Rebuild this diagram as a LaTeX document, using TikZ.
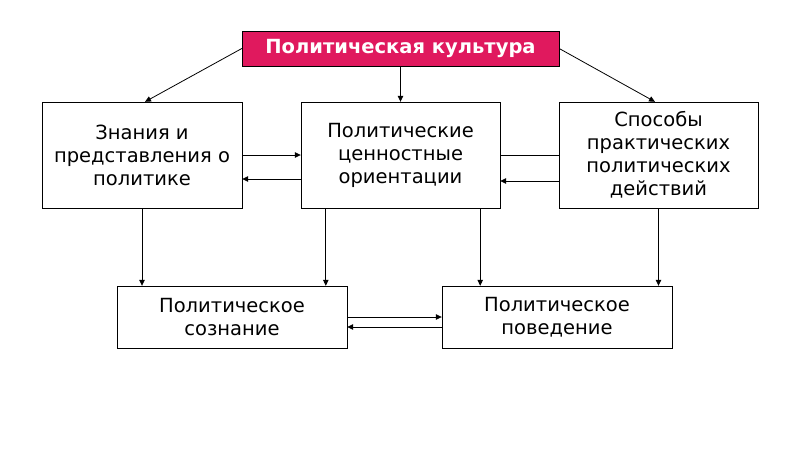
\documentclass[tikz,border=0pt]{standalone}
\usepackage{fontspec}
\setmainfont{DejaVu Sans}
\usepackage{tikz}
\usetikzlibrary{positioning, calc, arrows.meta}

\definecolor{culturepink}{RGB}{224,25,94}

\begin{document}
\begin{tikzpicture}[x=1pt, y=-1pt, >={Triangle[length=6pt,width=5.5pt]}]
		\tikzstyle{headbox}=[draw=black, minimum height=35pt, minimum width=317pt, fill=culturepink, text=white, font=\fontsize{19.5}{23}\selectfont\bfseries, inner sep=0pt]
		\tikzstyle{topbox}=[draw=black, minimum height=106pt, minimum width=199pt, fill=none, text=black, align=center, font=\fontsize{19.5}{23}\selectfont, inner sep=0pt]
		\tikzstyle{lowbox}=[draw=black, minimum height=62pt, minimum width=230pt, fill=none, text=black, align=center, font=\fontsize{19.5}{23}\selectfont, inner sep=0pt]
		\tikzstyle{link}=[->, line width=0.8pt, black]
		
		\useasboundingbox (0,0) rectangle (800,450);
		
		\node (culture) at (400.5,48.5) [headbox] {Политическая культура};
		
		\node (knowledge) at (142,155) [topbox, minimum width=200pt] {Знания и\\представления о\\политике};
		\node (values) at (400.5,155) [topbox] {Политические\\ценностные\\ориентации};
		\node (ways) at (658.5,155) [topbox] {Способы\\практических\\политических\\действий};
		
		\node (conscious) at (232,317) [lowbox] {Политическое\\сознание};
		\node (behaviour) at (557,317) [lowbox] {Политическое\\поведение};
		
		% from the head box
		\draw [link] (culture.west) -- ([xshift=3pt]knowledge.north);
		\draw [link] (culture.south) -- (values.north);
		\draw [link] (culture.east) -- ([xshift=-3.5pt]ways.north);
		
		% between the upper boxes
		\draw [link] (knowledge.east) -- (values.west);
		\draw [link] ([yshift=-24pt]values.west) -- ([yshift=-24pt]knowledge.east);
		\draw [line width=0.8pt] (values.east) -- (ways.west);
		\draw [link] ([yshift=-26pt]ways.west) -- ([yshift=-26pt]values.east);
		
		% down to the lower boxes
		\draw [link] (knowledge.south) -- (knowledge.south |- conscious.north);
		\draw [link] ([xshift=25pt]values.south west) -- ([xshift=25pt]values.south west |- conscious.north);
		\draw [link] ([xshift=-20pt]values.south east) -- ([xshift=-20pt]values.south east |- behaviour.north);
		\draw [link] (ways.south) -- (ways.south |- behaviour.north);
		
		% between the lower boxes
		\draw [link] (conscious.east) -- (behaviour.west);
		\draw [link] ([yshift=-10pt]behaviour.west) -- ([yshift=-10pt]conscious.east);
		
\end{tikzpicture}
\end{document}
